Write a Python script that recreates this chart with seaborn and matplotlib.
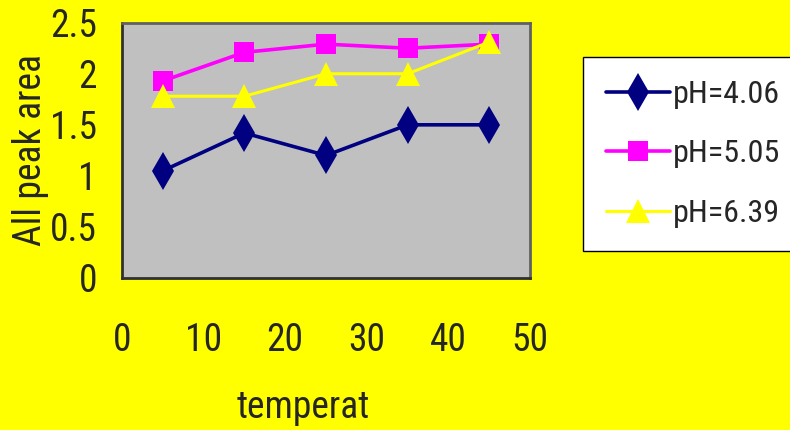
import matplotlib
matplotlib.use("Agg")
import matplotlib.pyplot as plt
from matplotlib import font_manager
import seaborn as sns
import pandas as pd

temps = [5, 15, 25, 35, 45]
ph406 = [1.05, 1.42, 1.20, 1.50, 1.50]
ph505 = [1.93, 2.21, 2.29, 2.25, 2.29]
ph639 = [1.78, 1.78, 2.00, 2.00, 2.31]
series_names = ["pH=4.06", "pH=5.05", "pH=6.39"]
xticks = [0, 10, 20, 30, 40, 50]
yticks = [0, 0.5, 1, 1.5, 2, 2.5]
ytick_labels = ["0", "0.5", "1", "1.5", "2", "2.5"]

sns.set_theme(style="white")
avail = {f.name for f in font_manager.fontManager.ttflist}
fam = "DejaVu Sans"
for cand in ["Liberation Sans Narrow", "DejaVu Sans Condensed", "Roboto Condensed", "Open Sans Condensed"]:
    if cand in avail:
        fam = cand
        break
plt.rcParams["font.family"] = [fam, "DejaVu Sans"]
FS = 27

fig = plt.figure(figsize=(7.9, 4.3), dpi=100, facecolor="#FFFF00")
ax = fig.add_axes([122/790, 1-278/430, (530-122)/790, (278-22.7)/430])
ax.set_facecolor("#C0C0C0")

styles = [
    dict(color="#000080", marker="d", markersize=19, lw=2.6),
    dict(color="#FF00FF", marker="s", markersize=15, lw=2.6),
    dict(color="#FFFF00", marker="^", markersize=17, lw=2.2),
]
for name, vals, st in zip(series_names, [ph406, ph505, ph639], styles):
    df = pd.DataFrame({"temperat": temps, "area": vals})
    sns.lineplot(data=df, x="temperat", y="area", ax=ax, label=name,
                 color=st["color"], marker=st["marker"], markersize=st["markersize"],
                 linewidth=st["lw"], markeredgewidth=0, markerfacecolor=st["color"])

ax.set_xlim(0, 50)
ax.set_ylim(0, 2.5)
ax.set_xticks(xticks)
ax.set_yticks(yticks)
ax.set_yticklabels(ytick_labels)
ax.tick_params(axis="x", direction="in", length=5, width=1, color="black", pad=32, labelsize=FS)
ax.tick_params(axis="y", direction="in", length=5, width=1, color="black", pad=18, labelsize=FS)
for s in ax.spines.values():
    s.set_color("#606060")
    s.set_linewidth(2)
ax.spines["left"].set_color("#303030")
ax.spines["bottom"].set_color("#303030")

ax.set_xlabel("temperat", fontsize=FS)
ax.xaxis.set_label_coords((303-122)/408, -0.435)
ax.set_ylabel("All peak area", fontsize=FS)
ax.yaxis.set_label_coords(-(122-49)/408, 0.5)

leg = ax.legend(loc="upper left", bbox_to_anchor=(583/790, 1-57/430),
                bbox_transform=fig.transFigure, frameon=True, fancybox=False,
                fontsize=23, handlelength=2.0, handletextpad=0.1,
                labelspacing=0.95, borderpad=0.72, borderaxespad=0)
leg.get_frame().set_edgecolor("black")
leg.get_frame().set_linewidth(1)
leg.get_frame().set_facecolor("white")
leg.get_frame().set_alpha(1)

fig.savefig("out.png", dpi=100, facecolor=fig.get_facecolor())
